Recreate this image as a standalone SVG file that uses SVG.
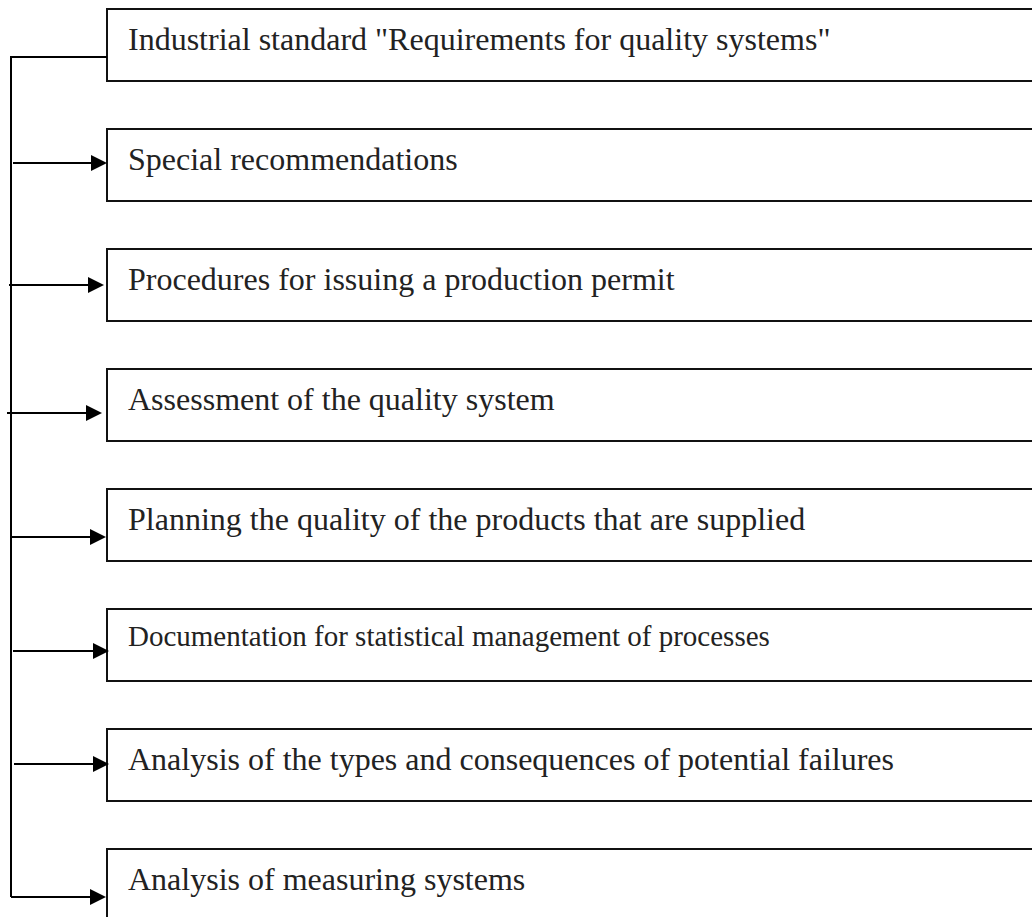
<svg xmlns="http://www.w3.org/2000/svg" width="1032" height="917" viewBox="0 0 1032 917">
<style>
.box{fill:#fff;stroke:#111;stroke-width:2}
.lbl{font-family:"Liberation Serif","Times New Roman",serif;font-size:32px;fill:#222}
.sm{font-size:29px}
.ln{stroke:#000;stroke-width:2;fill:none}
.hd{fill:#000}
</style>
<defs>
<path id="ah" d="M-16,-8 L0,0 L-16,8 z"/>
</defs>
<g id="n1"><rect class="box" x="107" y="9" width="940" height="72"/><text class="lbl" x="128" y="50">Industrial standard "Requirements for quality systems"</text></g>
<g id="n2"><rect class="box" x="107" y="129" width="940" height="72"/><text class="lbl" x="128" y="170">Special recommendations</text></g>
<g id="n3"><rect class="box" x="107" y="249" width="940" height="72"/><text class="lbl" x="128" y="290">Procedures for issuing a production permit</text></g>
<g id="n4"><rect class="box" x="107" y="369" width="940" height="72"/><text class="lbl" x="128" y="410">Assessment of the quality system</text></g>
<g id="n5"><rect class="box" x="107" y="489" width="940" height="72"/><text class="lbl" x="128" y="530">Planning the quality of the products that are supplied</text></g>
<g id="n6"><rect class="box" x="107" y="609" width="940" height="72"/><text class="lbl sm" x="128" y="646">Documentation for statistical management of processes</text></g>
<g id="n7"><rect class="box" x="107" y="729" width="940" height="72"/><text class="lbl" x="128" y="770">Analysis of the types and consequences of potential failures</text></g>
<g id="n8"><rect class="box" x="107" y="849" width="940" height="90"/><text class="lbl" x="128" y="890">Analysis of measuring systems</text></g>
<g id="connectors">
<path class="ln" d="M107,57 H11 V897"/>
<path class="ln" d="M13,163 H95 M9,285 H92 M7,413 H90 M11,537 H94 M13,651 H97 M14,764 H97 M11,897 H94"/>
<use href="#ah" class="hd" x="107" y="163"/>
<use href="#ah" class="hd" x="104" y="285"/>
<use href="#ah" class="hd" x="102" y="413"/>
<use href="#ah" class="hd" x="106" y="537"/>
<use href="#ah" class="hd" x="109" y="651"/>
<use href="#ah" class="hd" x="109" y="764"/>
<use href="#ah" class="hd" x="106" y="897"/>
</g>
</svg>
